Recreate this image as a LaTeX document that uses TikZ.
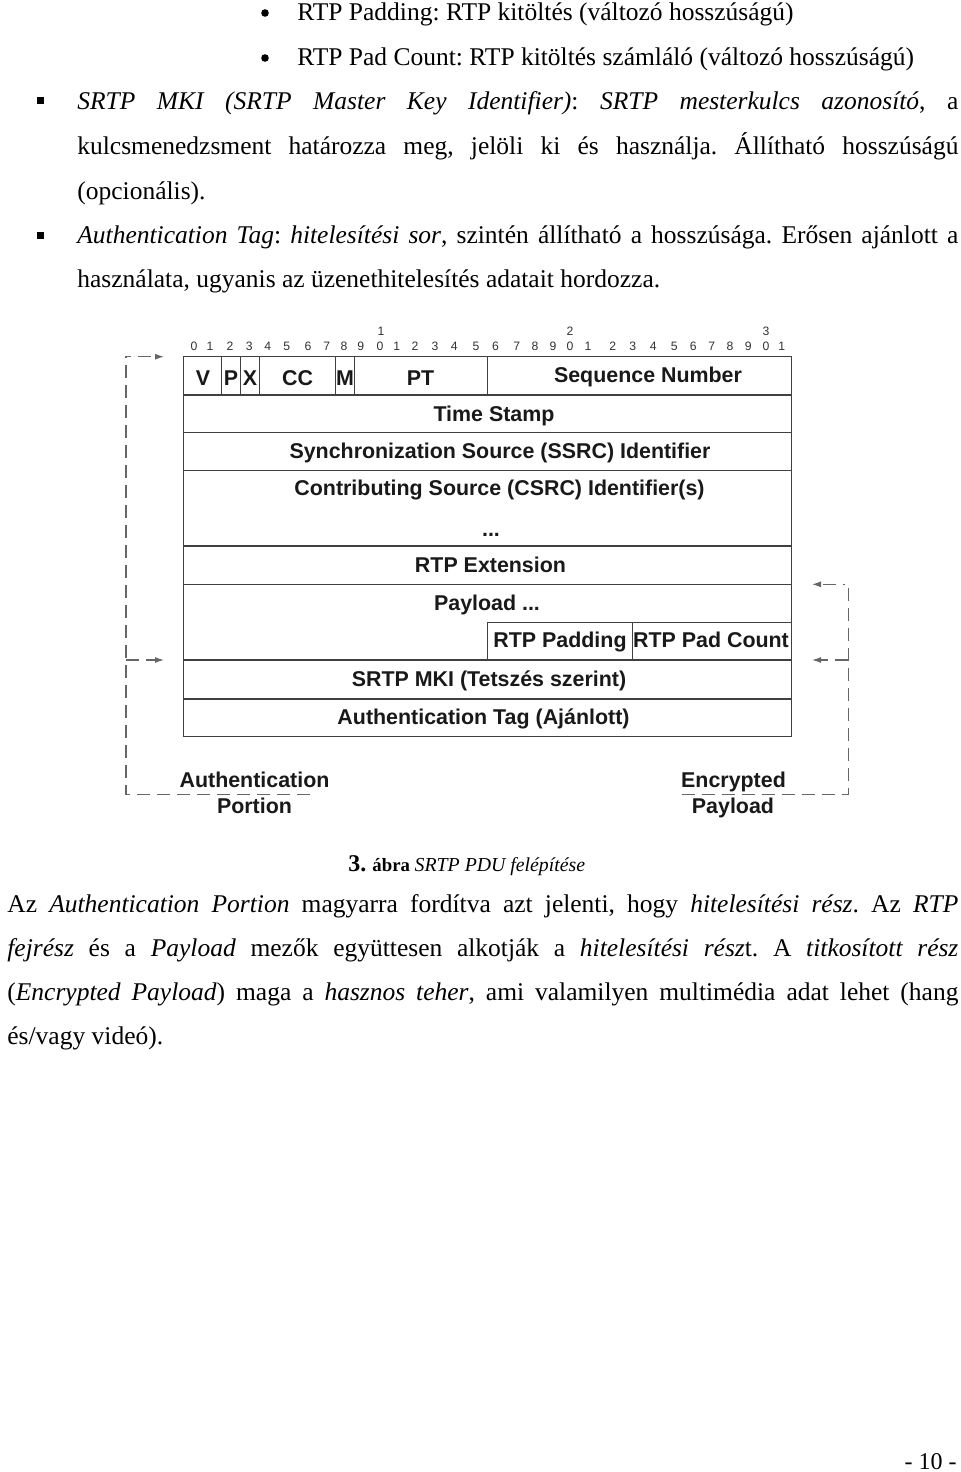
\documentclass[tikz,border=0pt]{standalone}
\usepackage{fontspec}
\setmainfont{Liberation Serif}
\newfontfamily\arialfont{Liberation Sans}
\usetikzlibrary{arrows.meta}

\tikzset{
  field/.style={font=\arialfont\bfseries\fontsize{10.7}{12}\selectfont, text=black!90, anchor=base, inner sep=0pt},
  bitno/.style={font=\arialfont\fontsize{6.1}{7}\selectfont, text=black!80, inner sep=0pt},
  pkt/.style={draw=black!75, line width=0.7pt},
  portion/.style={draw=black!60, line width=0.6pt, dash pattern=on 6.5pt off 3.5pt},
  portarrow/.style={portion, -{Latex[length=4.5pt,width=3pt]}},
  bodyline/.style={anchor=base west, inner sep=0pt, font=\fontsize{12.75}{14}\selectfont},
  sqbullet/.style={fill=black, inner sep=0pt, minimum size=3.5pt},
  dotbullet/.style={circle, fill=black, inner sep=0pt, minimum size=3.8pt},
}

\begin{document}
\frenchspacing
\begin{tikzpicture}[x=0.5pt,y=-0.5pt]
 \fill[white] (0,0) rectangle (960,1472);
 \useasboundingbox (0,0) rectangle (960,1472);

 % text above the figure
 \node[dotbullet] (dot1) at (265,13) {};
 \node[bodyline] (pad) at (297,20) {RTP Padding: RTP kitöltés (változó hosszúságú)};
 \node[dotbullet] (dot2) at (265,58) {};
 \node[bodyline] (padcnt) at (297,65) {RTP Pad Count: RTP kitöltés számláló (változó hosszúságú)};
 \node[sqbullet] (sq1) at (40,100) {};
 \node[bodyline] (mkia) at (77,109) {\makebox[440.5pt][s]{\textit{SRTP MKI (SRTP Master Key Identifier)}: \textit{SRTP mesterkulcs azonosító}, a}};
 \node[bodyline] (mkib) at (77,154) {\makebox[440.5pt][s]{kulcsmenedzsment határozza meg, jelöli ki és használja. Állítható hosszúságú}};
 \node[bodyline] (mkic) at (77,199) {(opcionális).};
 \node[sqbullet] (sq2) at (40,235) {};
 \node[bodyline] (taga) at (77,243) {\makebox[440.5pt][s]{\textit{Authentication Tag}: \textit{hitelesítési sor}, szintén állítható a hosszúsága. Erősen ajánlott a}};
 \node[bodyline] (tagb) at (77,287) {használata, ugyanis az üzenethitelesítés adatait hordozza.};

 % bit numbers
 \foreach \x/\d [count=\i] in {194/0,210/1,230/2,249.3/3,267.7/4,286.7/5,308/6,326.7/7,344/8,360.7/9,
   380/0,396.7/1,415/2,435/3,454.3/4,476/5,495.5/6,516.7/7,535/8,553/9,
   570/0,588/1,612.7/2,632.7/3,653.3/4,674.3/5,693.3/6,711.7/7,730/8,748.3/9,766/0,781.7/1}
   \node[bitno] (bit\i) at (\x,346.7) {\d};
 \node[bitno] (ten1) at (381,331) {1};
 \node[bitno] (ten2) at (570,331) {2};
 \node[bitno] (ten3) at (766,331) {3};

 % packet
 \draw[pkt] (183.3,356.7) rectangle (791.7,736.7);
 \foreach \y in {395,432.3,470.7,584.3,660,699}
   \draw[pkt] (183.3,\y) -- (791.7,\y);
 \draw[pkt, line width=1.2pt] (183.3,545.7) -- (791.7,545.7);
 \foreach \x in {221.7,240.7,259.3,335.7,354.3,487.3}
   \draw[pkt] (\x,356.7) -- (\x,395);
 \draw[pkt] (487.7,660) |- (791.7,622.3);
 \draw[pkt] (632.3,622.3) -- (632.3,660);

 \node[field] (ver) at (203,385.7) {V};
 \node[field] (padbit) at (231,385.7) {P};
 \node[field] (extbit) at (250,385.7) {X};
 \node[field] (cc) at (297.5,385.7) {CC};
 \node[field] (mark) at (345,385.7) {M};
 \node[field] (ptype) at (420.5,385.7) {PT};
 \node[field] (seq) at (648,382) {Sequence Number};
 \node[field] (ts) at (494,421) {Time Stamp};
 \node[field] (ssrc) at (500,458.3) {Synchronization Source (SSRC) Identifier};
 \node[field] (csrc) at (499.5,495) {Contributing Source (CSRC) Identifier(s)};
 \node[field] (more) at (491,536.7) {...};
 \node[field] (ext) at (490.5,572) {RTP Extension};
 \node[field] (payload) at (487,610) {Payload ...};
 \node[field] (rtppad) at (560,647.3) {RTP Padding};
 \node[field] (rtppadc) at (711,647.3) {RTP Pad Count};
 \node[field] (mki) at (489,686) {SRTP MKI (Tetszés szerint)};
 \node[field] (authtag) at (483.5,724) {Authentication Tag (Ajánlott)};

 % portions
 \coordinate (authTop) at (126,356.7);
 \coordinate (authMid) at (126,660);
 \coordinate (authEnd) at (310,794.3);
 \coordinate (authTip) at (164,356.7);
 \coordinate (authTip2) at (164,660);
 \coordinate (encTop) at (848.3,584.3);
 \coordinate (encMid) at (848.3,660);
 \coordinate (encEnd) at (681.7,794.3);
 \coordinate (encTip) at (812,584.3);
 \coordinate (encTip2) at (812,660);
 \draw[portion] (authEnd) -| (authTop) -- ++(5,0);
 \draw[portarrow] ([xshift=6pt]authTop) -- (authTip);
 \draw[portarrow] (authMid) -- (authTip2);
 \draw[portion] (encEnd) -| (encTop) -- ++(-5,0);
 \draw[portarrow] ([xshift=-6pt]encTop) -- (encTip);
 \draw[portarrow] (encMid) -- (encTip2);

 \node[field] (authlbl) at (254.5,787.7) {Authentication};
 \node[field] (authlbl2) at (254.5,813.3) {Portion};
 \node[field] (enclbl) at (733.5,787.7) {Encrypted};
 \node[field] (enclbl2) at (733,813.3) {Payload};

 % caption and text below
 \node[anchor=base west, inner sep=0pt] (capt) at (348,871)
   {\fontsize{12}{14}\selectfont\bfseries 3. \fontsize{9.4}{11}\selectfont ábra {\mdseries\itshape\fontsize{9.9}{11}\selectfont SRTP PDU felépítése}};
 \node[bodyline] (para) at (7,912) {\makebox[475.5pt][s]{Az \textit{Authentication Portion} magyarra fordítva azt jelenti, hogy \textit{hitelesítési rész}. Az \textit{RTP}}};
 \node[bodyline] (parb) at (7,956) {\makebox[475.5pt][s]{\textit{fejrész} és a \textit{Payload} mezők együttesen alkotják a \textit{hitelesítési rész}t. A \textit{titkosított rész}}};
 \node[bodyline] (parc) at (7,1000) {\makebox[475.5pt][s]{(\textit{Encrypted Payload}) maga a \textit{hasznos teher}, ami valamilyen multimédia adat lehet (hang}};
 \node[bodyline] (pard) at (7,1044) {és/vagy videó).};
 \node[anchor=base east, inner sep=0pt, font=\fontsize{12}{14}\selectfont] (pageno) at (957,1469) {- 10 -};
\end{tikzpicture}
\end{document}
